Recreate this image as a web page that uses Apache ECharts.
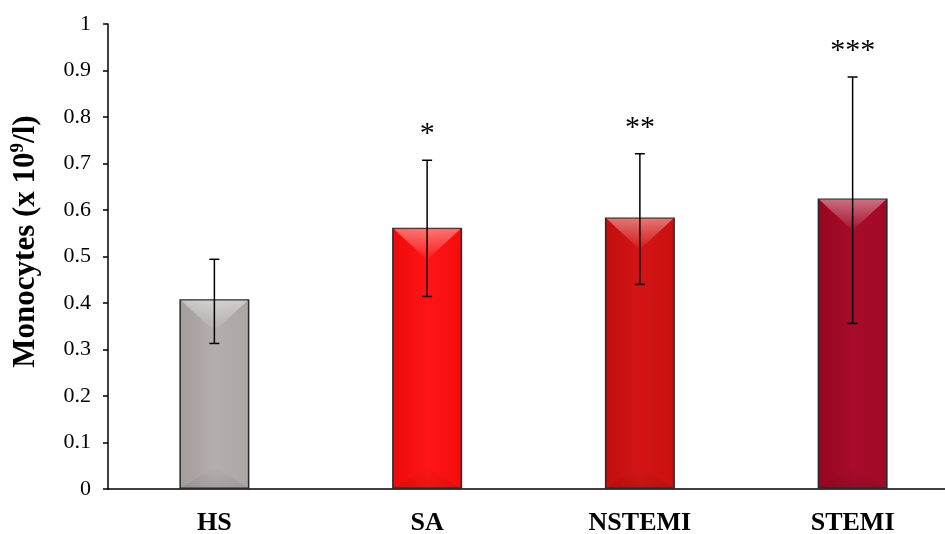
<!DOCTYPE html>
<html><head><meta charset="utf-8">
<script src="https://cdn.jsdelivr.net/npm/echarts@6/dist/echarts.min.js"></script>
<style>html,body{margin:0;padding:0;background:#fff}#c{width:945px;height:534px}</style>
</head><body><div id="c"></div>
<script>
var categories = ['HS', 'SA', 'NSTEMI', 'STEMI'];
var means = [0.408, 0.562, 0.584, 0.625];
var errUpper = [0.494, 0.707, 0.721, 0.886];
var errLower = [0.313, 0.414, 0.440, 0.356];
var stars = ['', '*', '**', '***'];
var yTicks = [0, 0.1, 0.2, 0.3, 0.4, 0.5, 0.6, 0.7, 0.8, 0.9, 1];

var barColors = [
  ['#a29c9a', '#b4afad', '#aba5a3'],
  ['#ec0a0a', '#ff1515', '#f40c0c'],
  ['#c00e0e', '#d41414', '#c91010'],
  ['#96061f', '#a80b2b', '#a00a26']
];
var BW = 70;
function grad(c) {
  return new echarts.graphic.LinearGradient(0, 0, 1, 0, [
    {offset: 0, color: c[0]}, {offset: 0.5, color: c[1]}, {offset: 1, color: c[2]}
  ]);
}

var chart = echarts.init(document.getElementById('c'));
var serif = 'Liberation Serif';
chart.setOption({
  animation: false,
  backgroundColor: '#fff',
  grid: {left: 108, top: 24, width: 851, height: 465, containLabel: false, outerBoundsMode: 'none'},
  xAxis: {
    type: 'category', data: categories,
    axisLine: {lineStyle: {color: '#000', width: 1.5}},
    axisTick: {show: false},
    axisLabel: {color: '#000', fontFamily: serif, fontWeight: 'bold', fontSize: 26, margin: 21}
  },
  yAxis: {
    type: 'value', min: 0, max: 1, interval: 0.1,
    splitLine: {show: false},
    axisLine: {show: true, lineStyle: {color: '#000', width: 1.5}},
    axisTick: {show: true, inside: false, length: 5, lineStyle: {color: '#000', width: 1.5}},
    axisLabel: {color: '#000', fontFamily: serif, fontSize: 22, margin: 17,
      formatter: function (v) { return String(Math.round(v * 10) / 10); }},
    name: '{a|Monocytes (x 10}{s|9}{a|/l)}',
    nameLocation: 'middle', nameGap: 65, nameRotate: 90,
    nameTextStyle: {
      padding: [0, 0, 0, 30],
      rich: {
        a: {fontFamily: serif, fontWeight: 'bold', fontSize: 31, color: '#000', lineHeight: 34},
        s: {fontFamily: serif, fontWeight: 'bold', fontSize: 19, color: '#000', verticalAlign: 'top', lineHeight: 34, padding: [0, 0, 14, 0]}
      }
    }
  },
  series: [{
    type: 'bar', barWidth: BW,
    data: means.map(function (v, i) {
      return {value: v, itemStyle: {color: grad(barColors[i]), borderColor: '#2a2a2a', borderWidth: 1.5}};
    }),
    z: 2
  }, {
    type: 'custom',
    data: means.map(function (v, i) { return [i, v]; }),
    renderItem: function (params, api) {
      var i = api.value(0);
      var t = api.coord([i, api.value(1)]);
      var b = api.coord([i, 0]);
      var x = t[0], h = BW / 2 - 1.5;
      return {type: 'group', silent: true, children: [
        {type: 'polygon', shape: {points: [[x - h, t[1] + 1], [x + h, t[1] + 1], [x, t[1] + 32]]},
          style: {fill: new echarts.graphic.LinearGradient(0, 0, 0, 1, [
            {offset: 0, color: 'rgba(255,255,255,0.42)'}, {offset: 1, color: 'rgba(255,255,255,0.02)'}])}},
        {type: 'polygon', shape: {points: [[x - h, b[1] - 1], [x + h, b[1] - 1], [x, b[1] - 22]]},
          style: {fill: new echarts.graphic.LinearGradient(0, 0, 0, 1, [
            {offset: 0, color: 'rgba(0,0,0,0)'}, {offset: 1, color: 'rgba(0,0,0,0.08)'}])}}
      ]};
    },
    z: 3
  }, {
    type: 'custom',
    data: means.map(function (v, i) { return [i, errLower[i], errUpper[i]]; }),
    renderItem: function (params, api) {
      var i = api.value(0);
      var lo = api.coord([i, api.value(1)]);
      var hi = api.coord([i, api.value(2)]);
      var x = lo[0], cap = 5;
      var st = {stroke: '#000', lineWidth: 1.5};
      return {type: 'group', children: [
        {type: 'line', shape: {x1: x, y1: lo[1], x2: x, y2: hi[1]}, style: st},
        {type: 'line', shape: {x1: x - cap, y1: lo[1], x2: x + cap, y2: lo[1]}, style: st},
        {type: 'line', shape: {x1: x - cap, y1: hi[1], x2: x + cap, y2: hi[1]}, style: st},
        {type: 'text', x: x, y: hi[1] - 11, style: {text: stars[i], fill: '#000', font: '30px "Liberation Serif"', textAlign: 'center', textVerticalAlign: 'bottom'}}
      ]};
    },
    z: 5
  }]
});
</script></body></html>
